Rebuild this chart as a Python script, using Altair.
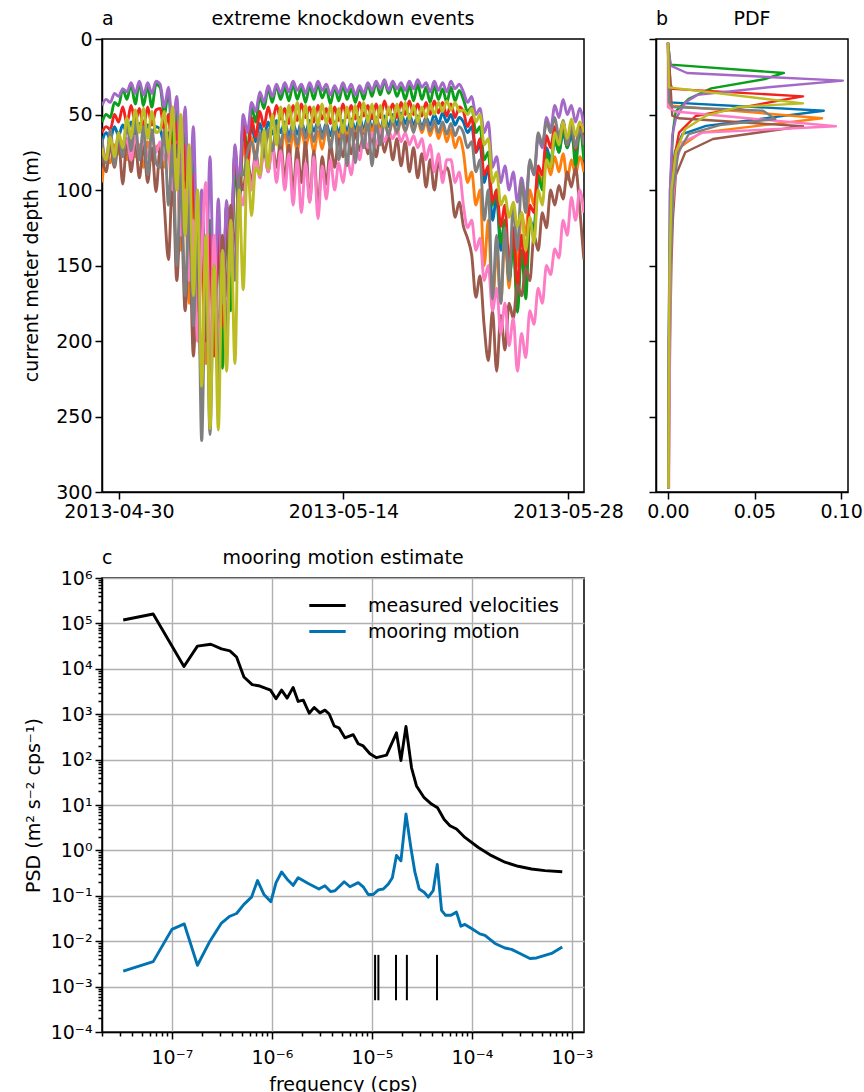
import altair as alt
import pandas as pd

FONT = "DejaVu Sans"
FS = 19

# ---------------- panel a : knockdown time series (depth, m) ----------------
series_names = ["m1", "m2", "m3", "m4", "m5", "m6", "m7", "m8", "m9"]
series_colors = ["#0173b2", "#ff7f0e", "#0b9e1a", "#f2221f", "#a468c8",
                 "#9b5a4c", "#fd7cc6", "#7f7f7f", "#bcbd22"]

time_start = "2013-04-28 22:36"
time_step = "373min"

depth_m1 = [68, 62, 66, 58, 64, 57, 62, 55, 63, 56, 64, 57, 63, 58,
            60, 70, 62, 95, 70, 125, 85, 160, 100, 190, 130, 205, 140, 200, 130, 185, 110, 140, 75, 100,
            60, 75, 58, 68, 56, 65, 55, 63, 54, 62, 55, 64, 56, 63, 55, 62, 54, 61, 55, 63,
            56, 64, 55, 62, 54, 61, 53, 60, 52, 60, 51, 59, 52, 60, 51, 58, 50, 57, 49, 56,
            50, 57, 51, 58, 52, 57, 50, 56, 49, 55, 50, 57, 52,
            55, 62, 58, 75, 70, 95, 85, 120, 105, 140, 125, 160, 135, 170, 140, 160, 120, 125, 90, 95,
            72, 80, 66, 75, 62, 72, 64, 75, 62, 70]
depth_m2 = [95, 78, 82, 70, 76, 68, 80, 67, 78, 70, 85, 68, 80, 72,
            70, 85, 72, 110, 80, 140, 95, 175, 110, 200, 140, 215, 150, 205, 140, 185, 115, 150, 80, 110,
            70, 85, 65, 78, 62, 74, 60, 72, 62, 76, 61, 78, 63, 74, 60, 72, 62, 75, 61, 73,
            60, 70, 58, 66, 57, 65, 56, 64, 55, 63, 54, 62, 53, 61, 54, 62, 55, 63, 54, 61,
            53, 60, 54, 62, 55, 64, 56, 66, 58, 68, 60, 72, 65,
            75, 95, 88, 110, 100, 150, 120, 178, 140, 175, 130, 165, 125, 150, 115, 130, 100, 110, 88, 95,
            80, 90, 78, 88, 76, 93, 80, 90, 78, 88]
depth_m3 = [55, 50, 52, 42, 44, 33, 40, 30, 43, 29, 44, 31, 45, 30,
            32, 50, 35, 70, 45, 110, 60, 140, 75, 170, 110, 190, 120, 200, 130, 218, 120, 180, 80, 120,
            55, 75, 45, 55, 38, 46, 33, 42, 31, 40, 32, 41, 30, 40, 32, 42, 31, 40, 30, 39,
            33, 43, 32, 41, 31, 40, 33, 42, 32, 40, 30, 38, 29, 37, 28, 36, 30, 38, 32, 40,
            31, 41, 30, 40, 32, 42, 31, 40, 33, 42, 32, 41, 34,
            40, 48, 45, 62, 58, 80, 75, 110, 100, 135, 120, 160, 135, 181, 140, 172, 120, 130, 90, 100,
            75, 85, 66, 75, 58, 72, 56, 84, 60, 80]
depth_m4 = [62, 58, 60, 50, 55, 45, 56, 44, 55, 46, 58, 45, 57, 47,
            46, 60, 50, 85, 55, 120, 70, 150, 90, 180, 120, 200, 130, 210, 125, 190, 110, 150, 75, 100,
            55, 82, 52, 65, 48, 58, 45, 55, 44, 53, 46, 56, 44, 54, 43, 52, 45, 55, 44, 53,
            46, 56, 45, 54, 43, 52, 44, 53, 42, 51, 44, 53, 43, 52, 41, 50, 43, 52, 42, 50,
            41, 50, 43, 51, 42, 50, 41, 49, 42, 51, 43, 52, 45,
            48, 58, 52, 75, 66, 90, 84, 108, 100, 124, 110, 150, 125, 165, 130, 150, 110, 115, 84, 90,
            64, 72, 58, 66, 55, 70, 56, 73, 58, 68]
depth_m5 = [44, 40, 42, 36, 38, 33, 35, 29, 36, 28, 37, 29, 36, 28,
            30, 45, 32, 60, 38, 90, 45, 120, 58, 150, 100, 170, 78, 180, 106, 175, 107, 150, 70, 100,
            50, 62, 42, 48, 35, 42, 31, 38, 30, 36, 29, 35, 28, 34, 30, 36, 29, 35, 28, 34,
            30, 37, 31, 36, 29, 35, 30, 37, 31, 36, 29, 34, 28, 33, 27, 34, 28, 33, 29, 34,
            28, 33, 27, 32, 29, 35, 28, 34, 29, 35, 28, 33, 30,
            35, 42, 38, 50, 46, 62, 55, 85, 78, 95, 84, 100, 88, 108, 92, 106, 82, 90, 66, 72,
            52, 60, 44, 52, 40, 50, 44, 55, 46, 58]
depth_m6 = [75, 88, 70, 85, 68, 96, 66, 88, 68, 92, 70, 95, 72, 101,
            72, 110, 146, 90, 160, 110, 180, 130, 210, 150, 230, 160, 220, 150, 200, 130, 170, 110, 140, 90,
            100, 80, 95, 75, 90, 72, 88, 70, 85, 68, 92, 70, 100, 72, 95, 68, 108, 74, 112, 78,
            96, 70, 85, 66, 78, 64, 76, 62, 74, 63, 76, 64, 78, 62, 75, 64, 80, 66, 84, 68,
            88, 72, 92, 76, 98, 80, 100, 82, 90, 85,
            96, 118, 108, 124, 132, 143, 171, 157, 190, 213, 180, 220, 183, 206, 175, 185, 163, 170, 152, 160,
            130, 140, 115, 125, 100, 110, 97, 106, 88, 98, 85, 112, 146]
depth_m7 = [70, 78, 66, 76, 64, 74, 66, 80, 65, 76, 67, 78, 66, 75,
            68, 80, 70, 100, 80, 130, 100, 160, 120, 200, 140, 95, 220, 130, 210, 140, 190, 120, 150, 100,
            110, 85, 100, 78, 92, 72, 88, 70, 95, 74, 100, 76, 110, 80, 115, 82, 108, 78, 119, 84,
            106, 80, 100, 82, 95, 78, 90, 70, 80, 64, 72, 62, 70, 60, 68, 61, 66, 60, 68, 62,
            70, 64, 72, 66, 80, 70, 88, 76, 95, 80,
            80, 95, 88, 110, 125, 120, 140, 132, 160, 150, 180, 165, 195, 175, 203, 185, 220, 195, 211, 180,
            189, 165, 175, 150, 156, 139, 145, 120, 130, 105, 120, 100, 115]
depth_m8 = [66, 82, 60, 84, 62, 78, 56, 74, 54, 80, 58, 90, 60, 82,
            85, 60, 110, 70, 150, 90, 170, 110, 190, 120, 266, 140, 262, 150, 230, 140, 200, 120, 160, 90,
            90, 75, 68, 80, 62, 78, 60, 74, 58, 70, 56, 68, 57, 70, 55, 66, 56, 68, 55, 66,
            57, 72, 58, 80, 60, 84, 56, 82, 55, 72, 54, 84, 56, 70, 55, 64, 53, 62, 52, 61,
            53, 62, 52, 60, 53, 61, 54, 62, 55, 63, 56, 64, 58,
            62, 72, 68, 88, 80, 120, 100, 172, 130, 175, 125, 160, 110, 140, 95, 115, 80, 90, 62, 70,
            55, 62, 52, 65, 54, 70, 56, 72, 60, 70]
depth_m9 = [72, 80, 65, 78, 62, 72, 52, 65, 47, 62, 46, 66, 48, 62,
            60, 48, 75, 45, 100, 50, 130, 70, 170, 100, 230, 130, 258, 150, 259, 140, 220, 120, 215, 100,
            166, 80, 117, 85, 90, 60, 86, 50, 70, 45, 62, 44, 60, 42, 58, 44, 62, 45, 57, 43,
            56, 44, 60, 46, 62, 45, 58, 44, 57, 42, 55, 43, 56, 44, 58, 45, 55, 43, 54, 42,
            53, 44, 55, 45, 52, 43, 50, 42, 48, 41, 47, 42, 48,
            47, 50, 46, 55, 50, 70, 66, 95, 88, 110, 104, 118, 108, 124, 115, 140, 118, 135, 100, 110,
            80, 85, 62, 70, 55, 66, 53, 64, 55, 62]
depth_series = [depth_m1, depth_m2, depth_m3, depth_m4, depth_m5,
                depth_m6, depth_m7, depth_m8, depth_m9]

date_ticks = [(2013, 4, 30), (2013, 5, 14), (2013, 5, 28)]
depth_ticks = [0, 50, 100, 150, 200, 250, 300]

# ---------------- panel b : PDF of depth ----------------
pdf_depth_m1 = [2.5, 42, 47.5, 57.5, 63, 75, 100, 150, 200, 297.5]
pdf_value_m1 = [0, 0.0006, 0.090, 0.022, 0.0083, 0.004, 0.002, 0.001, 0.0006, 0.0003]
pdf_depth_m2 = [2.5, 44, 52.5, 62, 73, 90, 120, 200, 297.5]
pdf_value_m2 = [0, 0.0006, 0.089, 0.019, 0.0054, 0.003, 0.0018, 0.0007, 0.0003]
pdf_depth_m3 = [2.5, 17, 22.5, 26.5, 32.7, 39.7, 48, 60, 100, 200, 297.5]
pdf_value_m3 = [0, 0.0015, 0.067, 0.056, 0.025, 0.012, 0.0045, 0.003, 0.0012, 0.0005, 0.0002]
pdf_depth_m4 = [2.5, 30, 33, 38, 40, 51, 62, 80, 120, 200, 297.5]
pdf_value_m4 = [0, 0.0015, 0.0025, 0.078, 0.068, 0.016, 0.0064, 0.0035, 0.0018, 0.0007, 0.0003]
pdf_depth_m5 = [2.5, 17.6, 22.5, 27.6, 32, 37, 42, 53, 64, 100, 200, 297.5]
pdf_value_m5 = [0, 0.0015, 0.011, 0.101, 0.058, 0.017, 0.010, 0.0045, 0.0025, 0.0012, 0.0004, 0.0002]
pdf_depth_m6 = [2.5, 50.8, 52.5, 57.8, 66.2, 75, 90.5, 120, 150, 200, 297.5]
pdf_value_m6 = [0, 0.0025, 0.0064, 0.078, 0.026, 0.010, 0.0045, 0.0028, 0.002, 0.0012, 0.0004]
pdf_depth_m7 = [2.5, 45.2, 48, 57.8, 62, 68.4, 80, 120, 200, 297.5]
pdf_value_m7 = [0, 0, 0.004, 0.097, 0.02, 0.0083, 0.005, 0.002, 0.0012, 0.0006]
pdf_depth_m8 = [2.5, 42, 45, 47.5, 53, 57, 63, 75, 100, 150, 200, 297.5]
pdf_value_m8 = [0, 0.0006, 0.003, 0.055, 0.062, 0.03, 0.012, 0.006, 0.003, 0.0015, 0.0008, 0.0003]
pdf_depth_m9 = [2.5, 32, 42.6, 45, 50.8, 59.6, 75, 100, 150, 200, 297.5]
pdf_value_m9 = [0, 0.0006, 0.078, 0.041, 0.022, 0.010, 0.0045, 0.002, 0.001, 0.0006, 0.0003]
pdf_depths = [pdf_depth_m1, pdf_depth_m2, pdf_depth_m3, pdf_depth_m4, pdf_depth_m5,
              pdf_depth_m6, pdf_depth_m7, pdf_depth_m8, pdf_depth_m9]
pdf_values = [pdf_value_m1, pdf_value_m2, pdf_value_m3, pdf_value_m4, pdf_value_m5,
              pdf_value_m6, pdf_value_m7, pdf_value_m8, pdf_value_m9]
pdf_ticks = [0.0, 0.05, 0.10]

# ---------------- panel c : spectra ----------------
freq_measured = [3.26e-8, 6.50e-8, 1.32e-7, 1.80e-7, 2.45e-7, 3.13e-7, 3.80e-7, 4.43e-7, 5.25e-7,
                 6.35e-7, 7.59e-7, 9.68e-7, 1.10e-6, 1.25e-6, 1.42e-6, 1.63e-6, 1.83e-6, 2.06e-6,
                 2.36e-6, 2.65e-6, 3.02e-6, 3.39e-6, 3.74e-6, 4.20e-6, 4.68e-6, 5.37e-6, 6.50e-6,
                 7.29e-6, 8.18e-6, 9.55e-6, 1.11e-5, 1.40e-5, 1.76e-5, 1.95e-5, 2.19e-5, 2.49e-5,
                 2.79e-5, 3.33e-5, 3.94e-5, 4.53e-5, 5.28e-5, 6.03e-5, 7.01e-5, 8.51e-5, 1.16e-4,
                 1.57e-4, 2.14e-4, 2.90e-4, 3.94e-4, 5.37e-4, 8.0e-4]
psd_measured = [1.19e5, 1.61e5, 1.12e4, 3.16e4, 3.47e4, 2.75e4, 2.48e4, 1.82e4, 6.6e3,
                4.47e3, 4.17e3, 3.39e3, 2.19e3, 3.39e3, 2.26e3, 3.89e3, 1.91e3, 2.04e3,
                1.05e3, 1.41e3, 1.07e3, 1.23e3, 1.01e3, 550, 501, 302, 355,
                224, 200, 135, 110, 126, 389, 95.5, 537, 66,
                26.3, 14.5, 10.5, 8.7, 4.8, 3.5, 2.95, 1.93, 1.16,
                0.766, 0.55, 0.447, 0.389, 0.359, 0.339]
freq_mooring = [3.26e-8, 6.50e-8, 1.0e-7, 1.33e-7, 1.80e-7, 2.40e-7, 3.13e-7, 3.80e-7, 4.43e-7,
                5.25e-7, 6.25e-7, 7.18e-7, 8.32e-7, 9.77e-7, 1.10e-6, 1.25e-6, 1.42e-6, 1.63e-6,
                1.83e-6, 2.31e-6, 2.95e-6, 3.39e-6, 3.85e-6, 4.27e-6, 5.28e-6, 6.03e-6, 7.29e-6,
                8.18e-6, 9.18e-6, 1.03e-5, 1.16e-5, 1.30e-5, 1.46e-5, 1.60e-5, 1.76e-5, 1.95e-5,
                2.19e-5, 2.45e-5, 2.69e-5, 2.97e-5, 3.33e-5, 3.66e-5, 4.10e-5, 4.50e-5, 4.97e-5,
                5.45e-5, 6.17e-5, 7.01e-5, 7.76e-5, 8.51e-5, 9.91e-5, 1.20e-4, 1.35e-4, 1.70e-4,
                2.14e-4, 2.49e-4, 3.02e-4, 3.80e-4, 4.43e-4, 6.25e-4, 8.0e-4]
psd_mooring = [2.19e-3, 3.55e-3, 1.82e-2, 2.40e-2, 2.95e-3, 1.0e-2, 2.51e-2, 3.55e-2, 4.07e-2,
               6.46e-2, 9.33e-2, 0.216, 0.107, 7.41e-2, 0.195, 0.335, 0.232, 0.170,
               0.251, 0.186, 0.141, 0.166, 0.124, 0.129, 0.204, 0.158, 0.195,
               0.158, 0.107, 0.107, 0.135, 0.141, 0.182, 0.251, 0.776, 0.589,
               6.31, 1.16, 0.331, 0.141, 0.120, 9.33e-2, 0.130, 0.490, 4.79e-2,
               3.72e-2, 3.72e-2, 4.37e-2, 2.14e-2, 2.34e-2, 1.91e-2, 1.45e-2, 1.35e-2, 8.91e-3,
               7.08e-3, 6.61e-3, 5.37e-3, 4.17e-3, 4.27e-3, 5.37e-3, 7.41e-3]
tide_freqs = [1.0758e-5, 1.1606e-5, 1.74e-5, 2.2366e-5, 4.4732e-5]
tide_low = [5e-4, 5e-4, 5e-4, 5e-4, 5e-4]
tide_high = [5e-3, 5e-3, 5e-3, 5e-3, 5e-3]
spec_names = ["measured velocities", "mooring motion"]
spec_colors = ["black", "#0173b2"]
freq_major = [1e-7, 1e-6, 1e-5, 1e-4, 1e-3]
psd_major = [1e-4, 1e-3, 1e-2, 1e-1, 1e0, 1e1, 1e2, 1e3, 1e4, 1e5, 1e6]

# ---------------- build tables ----------------
times = pd.date_range(time_start, periods=len(depth_m1), freq=time_step).strftime("%Y-%m-%dT%H:%M:%SZ")
rows = []
for k, (name, vals) in enumerate(zip(series_names, depth_series)):
    for t, v in zip(times, vals):
        rows.append({"time": t, "depth": v, "series": name, "k": k})
df_a = pd.DataFrame(rows)

rows = []
for k, (name, ds, vs) in enumerate(zip(series_names, pdf_depths, pdf_values)):
    for d, v in zip(ds, vs):
        rows.append({"depth": d, "pdf": v, "series": name, "k": k})
df_b = pd.DataFrame(rows)

rows = []
for f, p in zip(freq_measured, psd_measured):
    rows.append({"freq": f, "psd": p, "name": spec_names[0]})
for f, p in zip(freq_mooring, psd_mooring):
    rows.append({"freq": f, "psd": p, "name": spec_names[1]})
df_c = pd.DataFrame(rows)
df_t = pd.DataFrame({"freq": tide_freqs, "lo": tide_low, "hi": tide_high})

freq_minor = [m * 10.0 ** e for e in range(-8, -2) for m in range(2, 10) if 2.0e-8 <= m * 10.0 ** e <= 1.32e-3]
psd_minor = [m * 10.0 ** e for e in range(-4, 6) for m in range(2, 10)]

color_a = alt.Color("series:N", scale=alt.Scale(domain=series_names, range=series_colors), legend=None)
depth_scale = alt.Scale(domain=[0, 300], reverse=True, nice=False, zero=False)


def heading(letter_text, title_text, width):
    letter = alt.Chart(pd.DataFrame({"t": [letter_text]})).mark_text(
        align="left", baseline="alphabetic", font=FONT, fontSize=FS, color="black"
    ).encode(x=alt.value(0), y=alt.value(-14), text="t:N")
    title = alt.Chart(pd.DataFrame({"t": [title_text]})).mark_text(
        align="center", baseline="alphabetic", font=FONT, fontSize=FS, color="black"
    ).encode(x=alt.value(width / 2), y=alt.value(-14), text="t:N")
    return [letter, title]


# panel a
lines_a = alt.Chart(df_a).mark_line(strokeWidth=2.9, clip=True, strokeJoin="round",
                                    interpolate="monotone").encode(
    x=alt.X("time:T",
            scale=alt.Scale(type="utc", domain=[
                alt.DateTime(year=2013, month=4, date=28, hours=22, minutes=36, utc=True),
                alt.DateTime(year=2013, month=5, date=28, hours=23, minutes=56, utc=True)]),
            axis=alt.Axis(values=[alt.DateTime(year=y, month=m, date=d, utc=True) for y, m, d in date_ticks],
                          labelExpr="utcFormat(datum.value, '%Y-%m-%d')", title=None, grid=False,
                          tickSize=7, labelPadding=3)),
    y=alt.Y("depth:Q", scale=depth_scale,
            axis=alt.Axis(values=depth_ticks, title="current meter depth (m)", grid=False,
                          tickSize=7, labelPadding=3, titlePadding=14)),
    color=color_a,
    detail="k:O",
)
panel_a = alt.layer(lines_a, *heading("a", "extreme knockdown events", 482)).properties(
    width=482, height=453)

# panel b
lines_b = alt.Chart(df_b).mark_line(strokeWidth=2.4, clip=True, strokeJoin="round").encode(
    x=alt.X("pdf:Q", scale=alt.Scale(domain=[-0.0069, 0.104], nice=False, zero=False),
            axis=alt.Axis(values=pdf_ticks, format=".2f", title=None, grid=False,
                          tickSize=7, labelPadding=3)),
    y=alt.Y("depth:Q", scale=depth_scale,
            axis=alt.Axis(values=depth_ticks, labels=False, title=None, grid=False, tickSize=7)),
    color=color_a,
    order="depth:Q",
)
panel_b = alt.layer(lines_b, *heading("b", "PDF", 192)).properties(width=192, height=453)

# panel c
exp_expr = "round(log(datum.value)/LN10)"
sup_expr = ("'10' + (" + exp_expr + " < 0 ? '\u207b' : '') + "
            "['\u2070','\u00b9','\u00b2','\u00b3','\u2074','\u2075','\u2076','\u2077','\u2078','\u2079']"
            "[abs(" + exp_expr + ")]")
fscale = alt.Scale(type="log", domain=[2.0e-8, 1.32e-3], nice=False)
pscale = alt.Scale(type="log", domain=[1e-4, 1e6], nice=False)

lines_c = alt.Chart(df_c).mark_line(strokeWidth=2.9, strokeJoin="round").encode(
    x=alt.X("freq:Q", scale=fscale,
            axis=alt.Axis(values=freq_major, labelExpr=sup_expr, title="frequency (cps)", grid=True,
                          tickSize=7, labelPadding=9, titlePadding=8, orient="bottom")),
    y=alt.Y("psd:Q", scale=pscale,
            axis=alt.Axis(values=psd_major, labelExpr=sup_expr,
                          title="PSD (m\u00b2 s\u207b\u00b2 cps\u207b\u00b9)", grid=True,
                          tickSize=7, labelPadding=3, titlePadding=7, orient="left")),
    color=alt.Color("name:N", scale=alt.Scale(domain=spec_names, range=spec_colors),
                    legend=alt.Legend(title=None, orient="none", legendX=210, legendY=12,
                                      symbolType="M-1.3,0L1.3,0", symbolSize=784,
                                      symbolStrokeWidth=2.9, labelFontSize=FS, labelFont=FONT,
                                      labelColor="black", labelOffset=25, rowPadding=0,
                                      labelLimit=400, padding=0)),
)
minor_c = alt.Chart(df_c).mark_point(opacity=0).encode(
    x=alt.X("freq:Q", scale=fscale,
            axis=alt.Axis(values=freq_minor, labels=False, title=None, grid=False, domain=False,
                          tickSize=4, orient="bottom")),
    y=alt.Y("psd:Q", scale=pscale,
            axis=alt.Axis(values=psd_minor, labels=False, title=None, grid=False, domain=False,
                          tickSize=4, orient="left")),
)
tides_c = alt.Chart(df_t).mark_rule(color="black", strokeWidth=2).encode(
    x=alt.X("freq:Q", axis=None),
    y=alt.Y("lo:Q", axis=None),
    y2="hi:Q",
)
panel_c = alt.layer(lines_c, minor_c, tides_c, *heading("c", "mooring motion estimate", 482)).resolve_axis(
    x="independent", y="independent").properties(width=482, height=454)

chart = alt.concat(panel_a, panel_b, panel_c, columns=2, spacing={"row": 86, "column": 72},
                   bounds="flush").resolve_scale(color="independent").properties(
    padding={"left": 21, "top": 9, "right": 0, "bottom": 0}
).configure_axis(
    labelFont=FONT, titleFont=FONT, labelFontSize=FS, titleFontSize=FS, titleFontWeight="normal",
    domainColor="black", tickColor="black", labelColor="black", titleColor="black",
    domainWidth=1.5, tickWidth=1.5, gridColor="#b0b0b0", gridWidth=1.4,
).configure_view(stroke="black", strokeWidth=1.5).configure_text(font=FONT)

chart.save("out.html", embed_options={"renderer": "svg", "actions": False})
